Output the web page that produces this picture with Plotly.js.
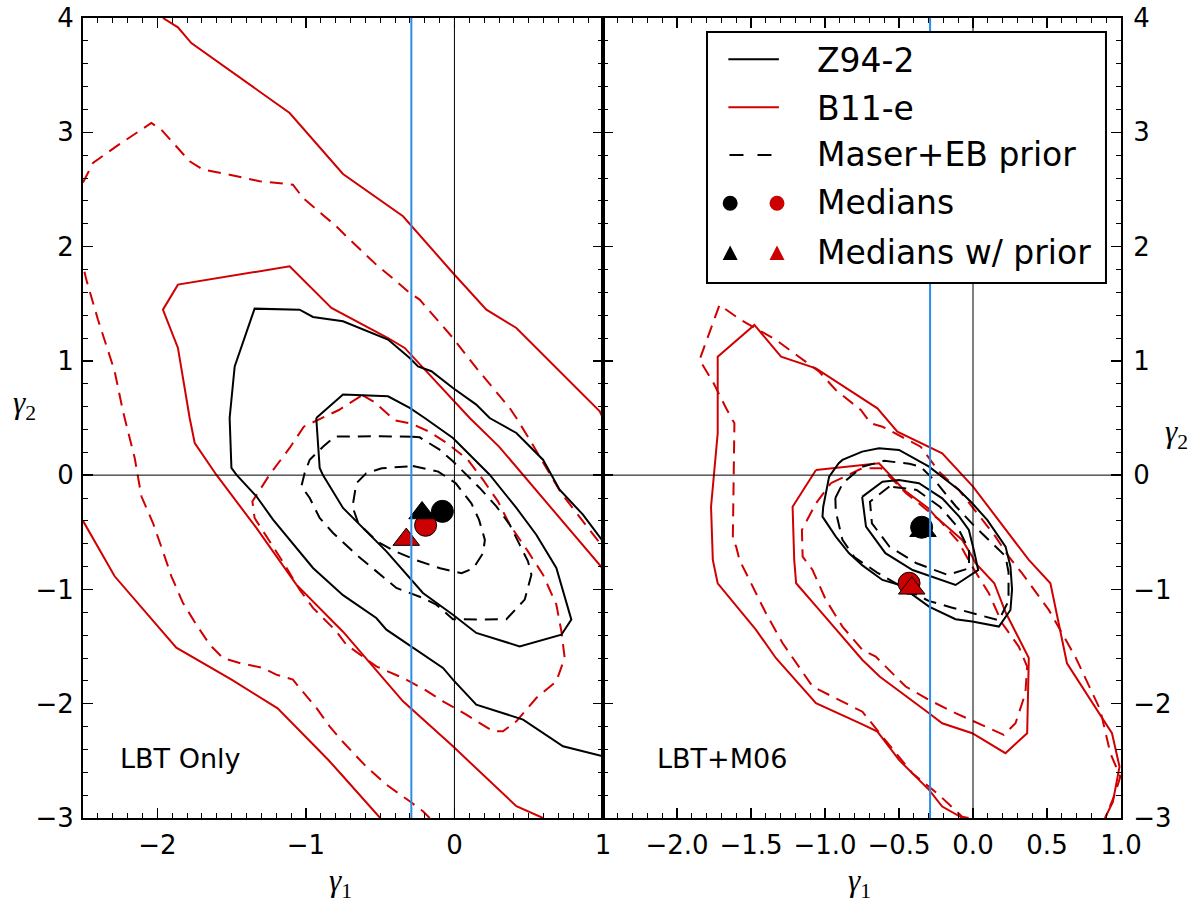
<!DOCTYPE html>
<html>
<head>
<meta charset="utf-8">
<script src="https://cdn.plot.ly/plotly-3.0.1.min.js"></script>
<style>html,body{margin:0;padding:0;background:#fff;}#chart{width:1201px;height:902px;}</style>
</head>
<body>
<div id="chart"></div>
<script>
// ---------------- DATA ----------------
// Left panel (LBT Only)
const L_z94_inner_x = [-0.93,-0.907,-0.885,-0.75,-0.458,-0.212,-0.01,0.147,0.439,0.72,0.787,0.686,0.551,0.417,0.237,-0.01,-0.2,-0.301,-0.447,-0.75];
const L_z94_inner_y = [0.5,0.063,0.0,-0.287,-0.667,-1.031,-1.221,-1.381,-1.498,-1.396,-1.264,-0.812,-0.521,-0.287,0.004,0.325,0.5,0.588,0.69,0.705];
const L_z94_outer_x = [1.0,0.865,0.708,0.596,0.417,0.237,0.147,-0.01,-0.155,-0.245,-0.301,-0.447,-0.75,-0.952,-1.042,-1.345,-1.479,-1.513,-1.501,-1.468,-1.333,-1.221,-0.952,-0.75,-0.526,-0.458,-0.077,-0.01,0.147,0.462,0.731,1.0];
const L_z94_outer_y = [-0.58,-0.346,-0.127,0.135,0.369,0.5,0.617,0.763,0.909,0.952,1.025,1.186,1.346,1.384,1.448,1.457,0.952,0.5,0.063,0.004,-0.185,-0.389,-0.812,-1.05,-1.25,-1.352,-1.687,-1.789,-2.008,-2.139,-2.373,-2.46];
const L_z94p_inner_x = [-0.28,-0.109,0.009,0.114,0.166,0.205,0.192,0.127,0.048,-0.096,-0.254,-0.41,-0.52,-0.647,-0.686,-0.671,-0.66,-0.594,-0.489];
const L_z94p_inner_y = [0.08,0.031,-0.071,-0.246,-0.392,-0.567,-0.684,-0.815,-0.858,-0.815,-0.745,-0.66,-0.58,-0.421,-0.276,-0.171,-0.071,0.016,0.06];
const L_z94p_outer_x = [-0.28,-0.5,-0.804,-0.883,-0.974,-1.008,-1.03,-0.974,-0.907,-0.817,-0.66,-0.526,-0.391,-0.212,-0.122,-0.01,0.192,0.35,0.473,0.518,0.495,0.439,0.372,0.282,0.17,0.058,-0.01,-0.1,-0.189,-0.234];
const L_z94p_outer_y = [0.337,0.34,0.337,0.25,0.135,0.019,-0.098,-0.2,-0.375,-0.506,-0.696,-0.841,-0.987,-1.075,-1.133,-1.26,-1.264,-1.26,-1.089,-0.871,-0.754,-0.608,-0.433,-0.273,-0.112,0.033,0.121,0.223,0.296,0.331];
const L_b11_outerA_x = [-1.962,-1.861,-1.771,-1.109,-0.75,-0.346,-0.01,0.215,0.417,0.978,1.0];
const L_b11_outerA_y = [4.0,3.918,3.781,3.169,2.635,2.265,1.769,1.448,1.288,0.559,0.5];
const L_b11_outerB_x = [-2.5,-2.287,-1.872,-1.5,-1.19,-0.85,-0.75,-0.5];
const L_b11_outerB_y = [-0.40,-0.885,-1.51,-1.79,-2.04,-2.49,-2.635,-3.0];
const L_b11_inner_x = [1.0,0.30,0.103,-0.223,-0.335,-0.447,-0.75,-0.828,-1.109,-1.861,-1.962,-1.861,-1.782,-1.748,-1.603,-1.333,-1.064,-0.75,-0.346,-0.01,0.417,0.596];
const L_b11_inner_y = [-0.82,0.25,0.5,0.952,1.113,1.2,1.404,1.463,1.827,1.667,1.448,1.113,0.5,0.281,0.004,-0.462,-0.958,-1.37,-1.979,-2.373,-2.897,-3.0];
const L_b11p_outerA_x = [-2.5,-2.433,-2.276,-2.04,-1.973,-1.782,-1.692,-1.513,-1.311,-1.087,-1.019,-0.795,-0.728,-0.526,-0.391,-0.301,-0.234,-0.01,0.147,0.372,0.417,0.507,0.638,0.72,1.0];
const L_b11p_outerA_y = [2.56,2.731,2.877,3.081,3.023,2.746,2.673,2.629,2.571,2.542,2.425,2.177,2.09,1.842,1.696,1.594,1.536,1.2,0.938,0.588,0.5,0.31,0.02,-0.16,-0.63];
const L_b11p_outerB_x = [-2.49,-2.478,-2.399,-2.287,-2.231,-2.152,-2.107,-2.029,-1.962,-1.905,-1.827,-1.737,-1.647,-1.558,-1.446,-1.288,-1.199,-1.087,-1.042,-0.929,-0.84,-0.75,-0.594,-0.458,-0.301,-0.212,-0.167];
const L_b11p_outerB_y = [1.78,1.711,1.36,0.909,0.559,0.15,-0.185,-0.419,-0.667,-0.885,-1.119,-1.308,-1.483,-1.6,-1.643,-1.687,-1.746,-1.789,-1.862,-2.037,-2.198,-2.335,-2.55,-2.708,-2.854,-2.941,-3.0];
const L_b11p_inner_x = [-0.62,-0.54,-0.40,-0.29,-0.17,-0.05,0.09,0.192,0.293,0.372,0.495,0.596,0.686,0.72,0.742,0.686,0.551,0.417,0.327,0.26,0.08,-0.077,-0.2,-0.346,-0.526,-0.728,-0.795,-0.952,-1.042,-1.143,-1.244,-1.345,-1.36,-1.244,-1.109,-1.014,-0.778];
const L_b11p_inner_y = [0.70,0.64,0.48,0.45,0.38,0.28,0.135,-0.04,-0.229,-0.433,-0.667,-0.871,-1.133,-1.366,-1.6,-1.804,-1.95,-2.154,-2.241,-2.241,-2.096,-1.979,-1.877,-1.775,-1.673,-1.483,-1.366,-1.162,-1.002,-0.783,-0.579,-0.375,-0.23,0.004,0.238,0.424,0.57];
// medians (left)
const L_med_black = [-0.081,-0.317];
const L_med_red = [-0.194,-0.439];
const L_prior_black = [-0.218,-0.331];
const L_prior_red = [-0.324,-0.564];

// Right panel (LBT+M06)
const R_z94_inner_x = [-0.749,-0.723,-0.592,-0.408,-0.118,0.035,0.01,-0.028,-0.093,-0.208,-0.365,-0.5,-0.612];
const R_z94_inner_y = [-0.19,-0.45,-0.683,-0.83,-0.961,-0.83,-0.68,-0.48,-0.363,-0.203,-0.071,-0.042,-0.057];
const R_z94_outer_x = [-1.012,-0.972,-0.907,-0.882,-0.749,-0.635,-0.5,-0.297,-0.095,-0.005,0.096,0.22,0.253,0.264,0.253,0.175,-0.005,-0.118,-0.297,-0.41,-0.5,-0.612,-0.747,-0.837,-0.927,-1.017];
const R_z94_outer_y = [-0.276,-0.013,0.104,0.133,0.206,0.235,0.22,0.074,-0.13,-0.246,-0.392,-0.625,-0.8,-1.0,-1.18,-1.325,-1.281,-1.261,-1.15,-1.048,-0.96,-0.917,-0.79,-0.684,-0.538,-0.363];
const R_z94p_inner_x = [-0.565,-0.696,-0.683,-0.565,-0.381,-0.171,-0.027,-0.027,-0.106,-0.224,-0.381];
const R_z94p_inner_y = [-0.1,-0.232,-0.421,-0.625,-0.771,-0.873,-0.815,-0.654,-0.45,-0.276,-0.129];
const R_z94p_outer_x = [-0.93,-0.88,-0.749,-0.6,-0.43,-0.354,-0.25,-0.118,0.013,0.13,0.22,0.24,0.24,0.175,0.085,0.0,-0.14,-0.3,-0.45,-0.65,-0.8,-0.882,-0.927];
const R_z94p_outer_y = [-0.2,-0.071,0.074,0.125,0.1,0.074,-0.06,-0.27,-0.45,-0.6,-0.71,-0.85,-1.1,-1.27,-1.24,-1.21,-1.16,-1.1,-1.0,-0.85,-0.72,-0.567,-0.32];
const R_b11_outer_x = [-0.07,-0.208,-0.297,-0.5,-0.646,-0.747,-1.061,-1.331,-1.466,-1.725,-1.758,-1.77,-1.725,-1.725,-1.477,-1.297,-1.061,-0.747,-0.646,-0.511,-0.208,0.0,0.377,0.523,0.635,0.939,0.99,0.945,0.892];
const R_b11_outer_y = [-3.0,-2.9,-2.754,-2.492,-2.244,-2.18,-1.996,-1.602,-1.354,-0.946,-0.742,-0.276,0.366,1.037,1.314,1.037,0.935,0.673,0.585,0.38,0.191,-0.1,-0.742,-0.946,-1.646,-2.258,-2.55,-2.86,-3.0];
const R_b11_inner_x = [-1.061,-0.747,-0.635,-0.466,-0.302,-0.252,-0.073,-0.005,0.017,0.144,0.22,0.377,0.366,0.219,-0.005,-0.208,-0.297,-0.631,-0.747,-1.039,-1.195,-1.208,-1.219];
const R_b11_inner_y = [0.045,0.089,0.104,-0.13,-0.29,-0.363,-0.567,-0.713,-0.77,-0.946,-1.2,-1.6,-2.258,-2.433,-2.258,-2.171,-2.083,-1.762,-1.617,-1.179,-0.946,-0.742,-0.276];
const R_b11p_outer_x = [-0.03,-0.073,-0.23,-0.41,-0.612,-0.747,-0.949,-1.084,-1.286,-1.399,-1.533,-1.578,-1.6,-1.623,-1.612,-1.668,-1.758,-1.848,-1.713,-1.567,-1.331,-1.196,-1.039,-0.927,-0.758,-0.691,-0.612,-0.354,-0.23,-0.095,0.029,0.152,0.242,0.332,0.512,0.691,0.86,0.928,0.995,0.961,0.894];
const R_b11p_outer_y = [-3.0,-2.988,-2.798,-2.608,-2.288,-2.07,-1.938,-1.85,-1.471,-1.209,-0.859,-0.742,-0.626,-0.567,0.453,0.585,0.818,1.008,1.489,1.357,1.183,1.051,0.905,0.745,0.57,0.453,0.424,0.249,0.03,-0.13,-0.334,-0.538,-0.713,-0.859,-1.179,-1.588,-2.054,-2.433,-2.638,-2.783,-3.0];
const R_b11p_inner_x = [-0.96,-0.75,-0.62,-0.45,-0.23,-0.1,-0.005,0.107,0.197,0.309,0.366,0.354,0.287,0.208,0.085,-0.118,-0.297,-0.455,-0.657,-0.747,-0.882,-0.994,-1.084,-1.151,-1.156,-1.061];
const R_b11p_inner_y = [-0.07,0.06,0.06,-0.16,-0.39,-0.58,-0.8,-1.034,-1.296,-1.5,-1.675,-1.909,-2.171,-2.273,-2.2,-2.083,-1.967,-1.85,-1.588,-1.53,-1.325,-1.092,-0.83,-0.713,-0.48,-0.246];
// medians (right)
const R_med_black = [-0.347,-0.456];
const R_med_red = [-0.432,-0.946];
const R_prior_black = [-0.338,-0.486];
const R_prior_red = [-0.414,-0.99];

// reference lines
const refZero = 0;
const blueLineX = [-0.29, -0.29]; // left, right panel

// ticks
const L_xticks = [-2,-1,0,1];
const L_xtext = ['\u22122','\u22121','0','1'];
const R_xticks = [-2,-1.5,-1,-0.5,0,0.5,1];
const R_xtext = ['\u22122.0','\u22121.5','\u22121.0','\u22120.5','0.0','0.5','1.0'];
const Y_ticks = [-3,-2,-1,0,1,2,3,4];
const Y_text = ['\u22123','\u22122','\u22121','0','1','2','3','4'];

// legend entries
const legendLabels = ['Z94-2','B11-e','Maser+EB prior','Medians','Medians w/ prior'];
const panelLabels = ['LBT Only','LBT+M06'];

// ---------------- STYLE ----------------
const BLACK = '#000000';
const RED = '#d00000';
const MRED = '#cc0000';
const BLUE = '#2a8ee6';
const DASH = '13px,8px';
const FONT = 'DejaVu Sans, Bitstream Vera Sans, sans-serif';

const traces = [];
function contour(xs, ys, color, dash, panel, closed) {
  const x = closed ? xs.concat([xs[0]]) : xs.slice();
  const y = closed ? ys.concat([ys[0]]) : ys.slice();
  traces.push({
    x: x, y: y, mode: 'lines', type: 'scatter',
    line: {color: color, width: 2, dash: dash || 'solid'},
    xaxis: panel === 'L' ? 'x' : 'x2', yaxis: panel === 'L' ? 'y' : 'y2',
    hoverinfo: 'skip', showlegend: false
  });
}
function marker(pt, color, symbol, panel) {
  traces.push({
    x: [pt[0]], y: [pt[1]], mode: 'markers', type: 'scatter',
    marker: {symbol: symbol, size: symbol === 'circle' ? 22 : 23, color: color, line: {color: '#000', width: 1}},
    xaxis: panel === 'L' ? 'x' : 'x2', yaxis: panel === 'L' ? 'y' : 'y2',
    hoverinfo: 'skip', showlegend: false
  });
}

// left panel
contour(L_b11_outerA_x, L_b11_outerA_y, RED, null, 'L', false);
contour(L_b11_outerB_x, L_b11_outerB_y, RED, null, 'L', false);
contour(L_b11_inner_x, L_b11_inner_y, RED, null, 'L', false);
contour(L_b11p_outerA_x, L_b11p_outerA_y, RED, DASH, 'L', false);
contour(L_b11p_outerB_x, L_b11p_outerB_y, RED, DASH, 'L', false);
contour(L_b11p_inner_x, L_b11p_inner_y, RED, DASH, 'L', true);
contour(L_z94_outer_x, L_z94_outer_y, BLACK, null, 'L', false);
contour(L_z94_inner_x, L_z94_inner_y, BLACK, null, 'L', true);
contour(L_z94p_outer_x, L_z94p_outer_y, BLACK, DASH, 'L', true);
contour(L_z94p_inner_x, L_z94p_inner_y, BLACK, DASH, 'L', true);
marker(L_med_black, BLACK, 'circle', 'L');
marker(L_med_red, MRED, 'circle', 'L');
marker(L_prior_black, BLACK, 'triangle-up', 'L');
marker(L_prior_red, MRED, 'triangle-up', 'L');

// right panel
contour(R_b11_outer_x, R_b11_outer_y, RED, null, 'R', false);
contour(R_b11_inner_x, R_b11_inner_y, RED, null, 'R', true);
contour(R_b11p_outer_x, R_b11p_outer_y, RED, DASH, 'R', false);
contour(R_b11p_inner_x, R_b11p_inner_y, RED, DASH, 'R', true);
contour(R_z94_outer_x, R_z94_outer_y, BLACK, null, 'R', true);
contour(R_z94_inner_x, R_z94_inner_y, BLACK, null, 'R', true);
contour(R_z94p_outer_x, R_z94p_outer_y, BLACK, DASH, 'R', true);
contour(R_z94p_inner_x, R_z94p_inner_y, BLACK, DASH, 'R', true);
marker(R_med_black, BLACK, 'circle', 'R');
marker(R_med_red, MRED, 'circle', 'R');
marker(R_prior_black, BLACK, 'triangle-up', 'R');
marker(R_prior_red, MRED, 'triangle-up', 'R');

// ---------------- AXES ----------------
const D = 520 / 1038;
const axisBase = {
  showline: true, linecolor: '#000', linewidth: 2, mirror: 'allticks',
  ticks: 'inside', ticklen: 10, tickwidth: 1.5, tickcolor: '#000',
  showgrid: false, zeroline: false, tickmode: 'array',
  tickfont: {family: FONT, size: 26, color: '#000'},
  fixedrange: true
};
const minorX = {dtick: 0.1, tick0: 0, ticklen: 5, tickwidth: 1, ticks: 'inside', tickcolor: '#000', showgrid: false};
const minorY = {dtick: 0.2, tick0: 0, ticklen: 5, tickwidth: 1, ticks: 'inside', tickcolor: '#000', showgrid: false};

const shapes = [];
// reference lines
shapes.push({type:'line', xref:'x', yref:'y domain', x0:refZero, x1:refZero, y0:0, y1:1, line:{color:'#000', width:1}, layer:'above'});
shapes.push({type:'line', xref:'x domain', yref:'y', x0:0, x1:1, y0:refZero, y1:refZero, line:{color:'#000', width:1}, layer:'above'});
shapes.push({type:'line', xref:'x', yref:'y domain', x0:blueLineX[0], x1:blueLineX[0], y0:0, y1:1, line:{color:BLUE, width:2}, layer:'above'});
shapes.push({type:'line', xref:'x2', yref:'y2 domain', x0:refZero, x1:refZero, y0:0, y1:1, line:{color:'#000', width:1}, layer:'above'});
shapes.push({type:'line', xref:'x2 domain', yref:'y2', x0:0, x1:1, y0:refZero, y1:refZero, line:{color:'#000', width:1}, layer:'above'});
shapes.push({type:'line', xref:'x2', yref:'y2 domain', x0:blueLineX[1], x1:blueLineX[1], y0:0, y1:1, line:{color:BLUE, width:2}, layer:'above'});

// legend (in right-panel domain coordinates)
const LX = 'x2 domain', LY = 'y2 domain';
shapes.push({type:'rect', xref:LX, yref:LY, x0:0.2008, x1:0.971, y0:0.66875, y1:0.9825, fillcolor:'#fff', line:{color:'#000', width:2}, layer:'above'});
const rowY = [0.9484, 0.8884, 0.8288, 0.7684, 0.7063];
shapes.push({type:'line', xref:LX, yref:LY, x0:0.242, x1:0.3396, y0:rowY[0], y1:rowY[0], line:{color:BLACK, width:2}, layer:'above'});
shapes.push({type:'line', xref:LX, yref:LY, x0:0.242, x1:0.3396, y0:rowY[1], y1:rowY[1], line:{color:RED, width:2}, layer:'above'});
shapes.push({type:'line', xref:LX, yref:LY, x0:0.2442, x1:0.3268, y0:rowY[2], y1:rowY[2], line:{color:BLACK, width:2, dash:'14px,14px'}, layer:'above'});
[[0.2455, BLACK],[0.3359, MRED]].forEach(function(p){
  shapes.push({type:'circle', xref:LX, yref:LY, xsizemode:'pixel', ysizemode:'pixel', xanchor:p[0], yanchor:rowY[3], x0:-7.5, x1:7.5, y0:-7.5, y1:7.5, fillcolor:p[1], line:{color:p[1], width:0}, layer:'above'});
  shapes.push({type:'path', xref:LX, yref:LY, xsizemode:'pixel', ysizemode:'pixel', xanchor:p[0], yanchor:rowY[4], path:'M-7.5,-7 L7.5,-7 L0,7.5 Z', fillcolor:p[1], line:{color:p[1], width:0}, layer:'above'});
});

const annotations = [];
const textY = [0.9463, 0.8875, 0.8288, 0.7688, 0.7075];
legendLabels.forEach(function(t, i){
  annotations.push({xref:LX, yref:LY, x:0.4097, y:textY[i], xanchor:'left', yanchor:'middle', text:t, showarrow:false, font:{family:FONT, size:33, color:'#000'}});
});
annotations.push({xref:'x', yref:'y', x:-2.264, y:-2.483, xanchor:'left', yanchor:'middle', text:panelLabels[0], showarrow:false, font:{family:FONT, size:27, color:'#000'}});
annotations.push({xref:'x2', yref:'y2', x:-2.149, y:-2.483, xanchor:'left', yanchor:'middle', text:panelLabels[1], showarrow:false, font:{family:FONT, size:27, color:'#000'}});
const gfont = {family:'Liberation Serif, DejaVu Serif, serif', size:31, color:'#000'};
annotations.push({xref:'paper', yref:'paper', x:(340-83)/1038, y:(818-883)/800, xanchor:'center', yanchor:'middle', text:'<i>\u03b3</i><sub>1</sub>', showarrow:false, font:gfont});
annotations.push({xref:'paper', yref:'paper', x:(859-83)/1038, y:(818-883)/800, xanchor:'center', yanchor:'middle', text:'<i>\u03b3</i><sub>1</sub>', showarrow:false, font:gfont});
annotations.push({xref:'paper', yref:'paper', x:(24-83)/1038, y:(818-405)/800, xanchor:'center', yanchor:'middle', text:'<i>\u03b3</i><sub>2</sub>', showarrow:false, font:gfont});
annotations.push({xref:'paper', yref:'paper', x:(1176-83)/1038, y:(818-434)/800, xanchor:'center', yanchor:'middle', text:'<i>\u03b3</i><sub>2</sub>', showarrow:false, font:gfont});

const layout = {
  width: 1201, height: 902,
  margin: {l: 83, r: 80, t: 18, b: 84, pad: 0},
  paper_bgcolor: '#fff', plot_bgcolor: '#fff',
  showlegend: false,
  xaxis: Object.assign({}, axisBase, {domain:[0, D], range:[-2.5, 1], tickvals:L_xticks, ticktext:L_xtext, minor:minorX, anchor:'y', ticklabelstandoff:3}),
  xaxis2: Object.assign({}, axisBase, {domain:[D, 1], range:[-2.5, 1], tickvals:R_xticks, ticktext:R_xtext, minor:minorX, anchor:'y2', ticklabelstandoff:3}),
  yaxis: Object.assign({}, axisBase, {domain:[0, 1], range:[-3, 4], tickvals:Y_ticks, ticktext:Y_text, minor:minorY, anchor:'x', ticklabelstandoff:2}),
  yaxis2: Object.assign({}, axisBase, {domain:[0, 1], range:[-3, 4], tickvals:Y_ticks, ticktext:Y_text, minor:minorY, anchor:'x2', side:'right', ticklabelstandoff:5}),
  shapes: shapes,
  annotations: annotations
};

Plotly.newPlot('chart', traces, layout, {displayModeBar: false, staticPlot: true});
</script>
</body>
</html>
